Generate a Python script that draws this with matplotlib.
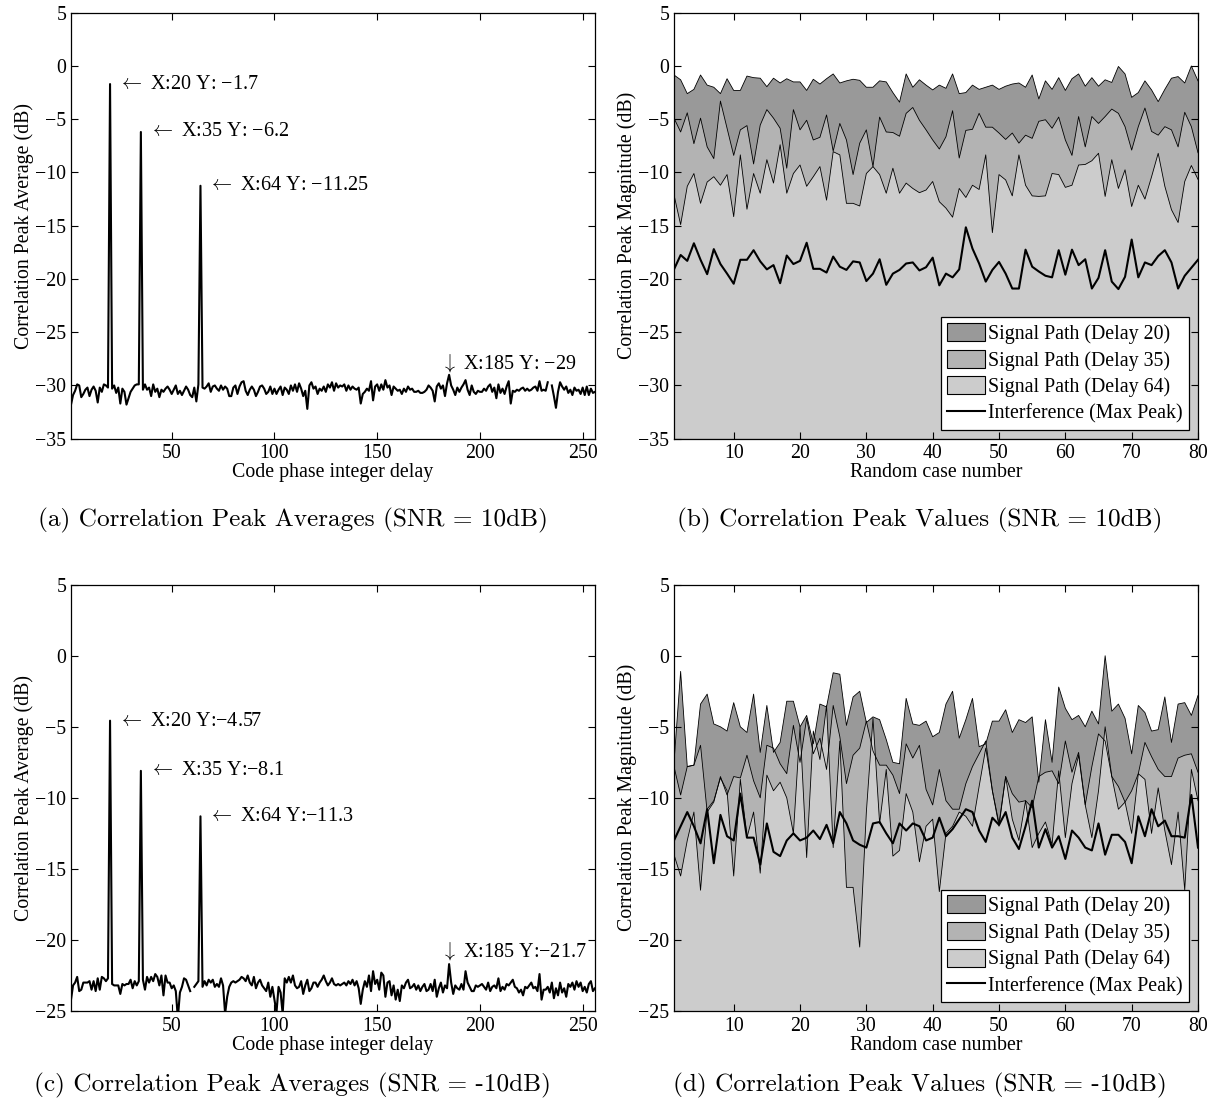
import numpy as np
import matplotlib
matplotlib.use("Agg")
import matplotlib.pyplot as plt
from matplotlib.patches import Patch
from matplotlib.lines import Line2D

nan = np.nan

# (a) correlation peak averages, SNR = 10dB
avg_10 = [
    -31.8, -30.9, -30.5, -29.9, -30.0, -31.1, -30.8, -30.4, -30.2, -31.0, -30.4, -30.1, -30.5, -31.6, -30.2, -30.6,
    -29.9, -30.0, -30.2, -1.7, -30.3, -30.0, -30.7, -30.2, -31.7, -30.3, -30.6, -31.8, -31.2, -30.6, -30.3, -30.0,
    -29.9, -29.9, -6.2, -30.4, -29.9, -30.4, -30.2, -31.0, -29.9, -30.6, -30.3, -31.1, -30.4, -30.6, -30.3, -30.1,
    -30.4, -30.8, -30.4, -30.0, -30.8, -30.5, -30.9, -30.5, -30.1, -30.4, -30.9, -31.1, -30.2, -31.5, -29.9, -11.25,
    -30.2, -30.3, -30.1, -29.8, -30.6, -30.1, -30.0, -30.3, -30.5, -30.0, -30.4, -30.1, -30.3, -31.0, -31.0, -30.2,
    -30.0, -30.8, -30.1, -29.7, -29.6, -30.5, -30.9, -30.4, -30.1, -30.4, -31.0, -30.6, -30.1, -30.0, -30.3, -30.8,
    -30.6, -30.1, -30.8, -30.3, -30.8, -30.4, -30.1, -30.9, -30.2, -30.4, -30.8, -30.0, -30.5, -29.9, -30.6, -29.8,
    -30.3, -31.0, -30.5, -32.2, -30.0, -29.7, -30.3, -30.1, -30.8, -30.3, -30.5, -30.1, -30.6, -29.9, -30.2, -29.7,
    -30.5, -29.8, -30.2, -30.0, -30.1, -29.9, -30.5, -30.0, -30.4, -30.1, -30.3, -30.4, -30.2, -31.7, -30.8, -30.6,
    -30.3, -30.5, -29.6, -31.4, -30.1, -29.9, -30.5, -29.9, -30.4, -29.5, -30.2, -30.0, -30.9, -30.1, -30.3, -30.5,
    -30.4, -30.8, -30.3, -30.6, -30.1, -30.4, -30.3, -30.6, -30.6, -30.5, -30.7, -30.7, -30.6, -30.4, -30.0, -30.2,
    -30.5, -31.5, -30.1, -29.8, -30.3, -30.0, -31.0, -29.8, -29.0, -30.0, -30.4, -30.9, -30.2, -30.6, -30.2, -29.9,
    -29.5, -30.4, -30.9, -30.0, -30.6, -30.8, -30.5, -30.6, -30.6, -30.3, -30.5, -30.1, -29.9, -30.6, -30.2, -31.2,
    -29.9, -30.7, -30.3, -30.8, -30.1, -29.6, -31.7, -30.5, -30.6, -30.4, -30.5, -30.3, -30.2, -30.5, -30.3, -30.5,
    -30.4, -30.2, -30.1, -30.5, -29.6, -30.5, -30.4, -30.5, -29.7, nan, -30.0, -31.0, -32.1, -30.6, -29.7, -30.1,
    -30.4, -30.1, -30.7, -30.4, -30.9, -30.2, -30.5, -30.4, -30.8, -30.2, -30.9, -30.1, -30.9, -30.3, -30.7, -30.6,
]

# (c) correlation peak averages, SNR = -10dB
avg_m10 = [
    -24.2, -23.2, -23.0, -22.6, -23.6, -23.5, -23.0, -23.0, -23.0, -22.9, -23.5, -22.9, -23.6, -22.7, -23.5, -22.6,
    -22.7, -22.9, -22.7, -4.57, -23.1, -23.2, -23.2, -23.2, -23.8, -23.1, -23.2, -23.1, -23.1, -22.8, -23.4, -22.9,
    -23.2, -22.9, -8.1, -22.8, -23.5, -22.6, -23.0, -22.6, -22.9, -22.4, -22.6, -23.2, -22.5, -23.9, -22.5, -23.0,
    -23.0, -23.4, -23.2, -23.6, -25.5, -23.7, -23.3, -22.7, -22.8, -23.2, -23.6, nan, -23.3, -23.1, -22.9, -11.3,
    -23.3, -22.9, -23.2, -22.8, -23.0, -22.8, -23.3, -23.1, -23.3, -22.7, -23.2, -25.2, -24.0, -23.3, -23.0, -22.9,
    -23.0, -22.9, -22.8, -22.6, -22.7, -22.9, -22.5, -23.0, -23.2, -22.6, -23.4, -23.0, -22.8, -23.2, -23.4, -23.6,
    -23.0, -24.0, -23.3, -24.2, -25.1, -23.3, -23.7, -25.2, -22.7, -23.0, -22.6, -23.0, -22.5, -23.2, -23.4, -23.3,
    -22.9, -23.8, -23.2, -22.8, -23.6, -23.4, -23.0, -23.0, -23.3, -23.0, -22.8, -22.5, -22.9, -23.2, -23.0, -22.7,
    -23.1, -23.2, -23.1, -23.2, -23.1, -23.0, -23.2, -22.9, -23.1, -22.8, -23.2, -22.9, -23.4, -24.5, -23.5, -22.9,
    -23.3, -22.5, -23.6, -22.2, -23.1, -22.8, -23.5, -22.3, -22.5, -24.0, -23.0, -22.9, -23.9, -23.2, -24.2, -23.5,
    -24.3, -23.2, -23.4, -23.0, -22.8, -23.4, -23.3, -23.1, -23.5, -23.2, -23.6, -23.3, -23.1, -23.6, -23.5, -23.1,
    -23.6, -22.8, -24.0, -23.4, -23.0, -23.7, -23.2, -23.4, -21.7, -23.0, -23.8, -23.2, -23.4, -23.5, -23.1, -23.5,
    -22.2, -23.0, -23.3, -23.6, -23.6, -23.2, -23.3, -23.2, -23.1, -23.3, -23.5, -23.0, -23.6, -23.3, -23.2, -23.4,
    -22.7, -23.6, -23.3, -23.5, -23.1, -23.2, -23.0, -22.8, -23.3, -23.4, -23.7, -23.5, -23.9, -23.3, -23.4, -23.2,
    -23.0, -23.4, -23.3, -23.6, -22.4, -24.2, -23.5, -23.5, -23.3, -23.7, -23.0, -24.1, -23.4, -23.9, -23.0, -23.7,
    -23.4, -24.0, -23.1, -23.3, -23.0, -23.5, -22.9, -23.3, -23.0, -23.6, -23.3, -23.7, -23.1, -22.9, -23.6, -23.4,
]

# (b) peak values per random case, SNR = 10dB
d20_10 = [-0.85, -1.3, -2.6, -2.2, -0.85, -1.8, -2.0, -2.6, -1.2, -2.3, -2.3, -0.95, -1.1, -1.15, -1.95, -1.15,
          -1.6, -1.2, -1.5, -1.5, -2.3, -1.25, -1.7, -1.2, -0.75, -1.6, -1.4, -1.25, -1.35, -2.0, -2.0, -1.4,
          -1.5, -2.5, -3.4, -0.75, -2.0, -1.3, -1.8, -2.25, -1.8, -2.1, -0.75, -2.6, -2.5, -1.8, -2.2, -2.0,
          -1.8, -2.2, -1.9, -1.7, -1.6, -2.0, -0.85, -3.1, -1.4, -2.2, -1.1, -2.3, -1.2, -0.75, -1.9, -1.1,
          -1.9, -1.3, -1.55, -0.05, -0.75, -2.95, -2.5, -1.4, -2.25, -3.35, -2.2, -1.15, -1.0, -1.6, 0.0, -1.4]
d35_10 = [-4.9, -6.2, -4.4, -7.3, -4.9, -7.6, -8.7, -3.3, -5.85, -8.4, -6.0, -5.6, -9.2, -5.55, -4.1, -4.9,
          -5.85, -9.6, -4.1, -6.0, -5.1, -6.95, -6.7, -4.6, -8.0, -5.4, -6.95, -10.2, -7.25, -6.0, -9.45, -4.8,
          -6.2, -6.25, -6.6, -4.45, -3.9, -5.1, -6.0, -6.95, -7.8, -6.65, -4.2, -8.65, -6.05, -5.95, -4.45, -5.75,
          -5.75, -6.3, -6.9, -6.3, -7.25, -6.5, -6.8, -5.2, -5.05, -5.85, -4.8, -6.95, -8.4, -4.75, -7.6, -4.75,
          -5.4, -4.75, -4.05, -4.45, -5.7, -7.9, -5.7, -3.95, -6.15, -6.5, -5.7, -6.0, -7.6, -4.35, -5.7, -8.15]
d64_10 = [-12.1, -14.9, -11.3, -10.1, -12.9, -10.9, -10.4, -11.2, -10.2, -14.15, -8.35, -13.45, -10.1, -11.95, -8.8, -11.0,
          -7.4, -11.95, -10.1, -9.3, -11.3, -10.4, -9.45, -12.6, -8.05, -8.35, -12.9, -12.9, -13.15, -10.1, -9.45, -10.2,
          -11.95, -9.6, -11.95, -11.0, -11.5, -11.9, -11.65, -10.85, -12.75, -13.35, -14.2, -11.5, -12.35, -11.2, -11.6, -8.35,
          -15.65, -10.2, -10.7, -12.2, -8.35, -11.2, -12.2, -12.25, -12.2, -10.1, -10.2, -11.4, -11.2, -9.3, -9.25, -8.9,
          -8.2, -12.25, -8.8, -11.5, -9.75, -13.2, -11.2, -12.5, -10.4, -8.2, -11.3, -13.5, -14.7, -10.85, -9.35, -10.65]
intf_10 = [-19.1, -17.75, -18.3, -16.65, -18.2, -19.55, -17.2, -18.6, -19.5, -20.45, -18.2, -18.2, -17.3, -18.35, -19.1, -18.7,
           -20.4, -17.8, -18.6, -18.3, -16.6, -19.05, -19.05, -19.4, -17.9, -18.85, -19.15, -18.35, -18.45, -20.2, -19.5, -18.15,
           -20.55, -19.5, -19.15, -18.55, -18.45, -19.2, -18.9, -18.0, -20.6, -19.5, -19.85, -19.1, -15.15, -17.15, -18.55, -20.25,
           -19.15, -18.4, -19.5, -20.9, -20.9, -17.25, -18.85, -19.3, -19.7, -19.85, -17.3, -19.6, -17.25, -18.7, -18.15, -20.9,
           -19.9, -17.3, -20.25, -20.95, -19.8, -16.3, -19.85, -18.45, -18.7, -17.85, -17.3, -18.45, -20.9, -19.7, -18.95, -18.2]

# (d) peak values per random case, SNR = -10dB
d20_m10 = [-7.5, -1.1, -7.8, -7.7, -3.4, -2.7, -4.8, -5.0, -5.3, -3.3, -5.0, -5.4, -2.7, -6.8, -3.5, -6.8,
           -6.1, -3.2, -3.2, -5.0, -4.2, -6.2, -3.4, -3.6, -1.2, -1.3, -4.9, -2.9, -2.5, -4.7, -4.3, -4.5,
           -5.9, -7.5, -7.6, -3.0, -4.8, -4.9, -4.6, -5.7, -5.4, -3.4, -2.5, -5.8, -4.5, -3.0, -6.4, -6.2,
           -4.6, -4.6, -3.8, -5.4, -4.5, -4.7, -4.3, -8.9, -4.5, -7.5, -2.2, -3.7, -4.5, -4.2, -5.0, -3.9,
           -4.8, 0.0, -3.9, -3.4, -4.4, -6.9, -3.5, -4.0, -5.3, -5.2, -2.9, -6.1, -3.4, -3.3, -4.2, -2.8]
d35_m10 = [-7.8, -9.8, -7.8, -7.7, -6.3, -11.0, -10.3, -8.5, -9.8, -8.5, -8.6, -7.0, -8.8, -10.0, -6.3, -6.5,
           -7.6, -8.3, -4.9, -7.5, -4.4, -6.9, -5.8, -8.0, -3.5, -5.7, -9.0, -7.0, -6.5, -4.6, -6.7, -7.7,
           -7.7, -8.4, -9.7, -6.2, -7.2, -6.3, -9.4, -10.5, -8.0, -10.2, -10.8, -10.8, -9.0, -7.8, -6.9, -6.0,
           -9.5, -11.8, -8.5, -9.7, -10.3, -10.2, -10.7, -8.5, -8.2, -8.1, -9.0, -6.0, -8.2, -6.8, -10.5, -7.8,
           -5.5, -6.0, -8.5, -9.2, -10.3, -9.5, -8.3, -6.1, -7.1, -8.0, -8.5, -8.5, -7.2, -7.0, -6.9, -8.2]
d64_m10 = [-14.0, -15.5, -13.0, -11.0, -16.5, -10.8, -10.2, -8.6, -9.5, -15.5, -8.7, -12.8, -11.0, -15.3, -8.4, -9.5,
           -8.9, -10.0, -12.5, -5.0, -14.2, -5.3, -7.3, -3.5, -13.5, -6.0, -16.3, -16.3, -20.5, -11.0, -4.4, -11.8,
           -8.0, -14.1, -13.7, -9.7, -11.0, -14.5, -12.0, -11.5, -16.6, -12.5, -12.0, -11.0, -11.3, -12.0, -9.2, -6.5,
           -9.5, -12.0, -8.5, -11.5, -13.0, -10.2, -13.5, -12.5, -11.7, -13.3, -8.1, -12.8, -9.0, -7.0, -10.5, -12.8,
           -9.5, -5.0, -8.5, -10.8, -10.3, -12.5, -8.3, -8.7, -12.5, -9.3, -12.3, -14.7, -11.0, -16.5, -8.0, -10.2]
intf_m10 = [-13.0, -12.0, -11.0, -12.0, -13.2, -10.8, -14.6, -11.2, -12.7, -13.0, -9.7, -12.8, -12.8, -14.7, -11.8, -13.8,
            -14.1, -13.0, -12.5, -13.0, -12.8, -12.3, -12.9, -11.9, -13.2, -11.0, -11.8, -13.0, -13.3, -13.5, -11.8, -11.7,
            -12.5, -13.2, -11.8, -12.3, -11.8, -12.0, -13.0, -12.8, -11.4, -12.7, -12.2, -11.5, -10.8, -11.0, -12.3, -13.1,
            -11.4, -11.9, -11.0, -12.8, -13.6, -12.0, -10.2, -13.5, -12.2, -13.5, -12.7, -14.3, -12.3, -12.8, -13.5, -13.7,
            -11.8, -14.0, -12.6, -12.6, -13.1, -14.6, -11.3, -12.7, -10.8, -12.0, -11.6, -12.7, -12.7, -12.8, -9.8, -13.5]

delay = np.arange(1, 257)
case = np.arange(1, 81)
fills = ['#999999', '#b3b3b3', '#cccccc']
labels = ['Signal Path (Delay 20)', 'Signal Path (Delay 35)', 'Signal Path (Delay 64)', 'Interference (Max Peak)']

plt.rcParams['font.family'] = ['Liberation Serif', 'DejaVu Serif']
plt.rcParams['mathtext.fontset'] = 'cm'
plt.rcParams['font.size'] = 14.3
plt.rcParams['xtick.direction'] = 'in'
plt.rcParams['ytick.direction'] = 'in'
plt.rcParams['xtick.top'] = True
plt.rcParams['ytick.right'] = True
plt.rcParams['xtick.major.size'] = 5
plt.rcParams['ytick.major.size'] = 5
plt.rcParams['xtick.major.pad'] = 4
plt.rcParams['axes.linewidth'] = 0.9

fig = plt.figure(figsize=(12.21, 11.13), dpi=100)
W, H = 1221.0, 1113.0


def box(l, t, r, b):
    return [l / W, 1 - b / H, (r - l) / W, (b - t) / H]


def avg_panel(ax, y, ylo, notes, note185):
    ax.plot(delay, y, color='k', lw=1.5)
    ax.set_xlim(1, 256)
    ax.set_ylim(ylo, 5)
    ax.set_xticks([50, 100, 150, 200, 250])
    ax.set_yticks(np.arange(ylo, 6, 5))
    ax.set_xlabel('Code phase integer delay', labelpad=0)
    ax.set_ylabel('Correlation Peak Average (dB)', labelpad=1)
    for xx, yy, txt in notes:
        ax.text(xx + 3.9, yy, r'$\leftarrow$ ' + txt, fontsize=14.5, va='center', ha='left')
    ax.text(181, note185[0], r'$\downarrow$' + ' ' + note185[1], fontsize=14.5, va='center', ha='left')


def peak_panel(ax, series, intf, ylo):
    # each area is drawn with its edge, so later areas cover earlier edges
    for s, c in zip(series, fills):
        ax.fill_between(case, s, ylo, facecolor=c, edgecolor='none')
        ax.plot(case, s, color='k', lw=0.6)
    ax.plot(case, intf, color='k', lw=1.5)
    ax.set_xlim(1, 80)
    ax.set_ylim(ylo, 5)
    ax.set_xticks(np.arange(10, 81, 10))
    ax.set_yticks(np.arange(ylo, 6, 5))
    ax.set_xlabel('Random case number', labelpad=0)
    ax.set_ylabel('Correlation Peak Magnitude (dB)', labelpad=1)
    handles = [Patch(facecolor=c, edgecolor='k', lw=0.8) for c in fills]
    handles.append(Line2D([], [], color='k', lw=1.5))
    leg = ax.legend(handles, labels, loc='lower right', fontsize=14.3, fancybox=False,
                    edgecolor='k', framealpha=1, handlelength=1.9, handleheight=1.0,
                    labelspacing=0.3, handletextpad=0.2, borderpad=0.3, borderaxespad=0.45)
    leg.get_frame().set_linewidth(0.9)


ax_a = fig.add_axes(box(71, 12.7, 595, 438.7))
avg_panel(ax_a, avg_10, -35,
          [(20, -1.7, 'X:20 Y: \u22121.7'), (35, -6.2, 'X:35 Y: \u22126.2'), (64, -11.25, 'X:64 Y: \u221211.25')],
          (-27.9, 'X:185 Y: \u221229'))

ax_c = fig.add_axes(box(71, 584.7, 595, 1011))
avg_panel(ax_c, avg_m10, -25,
          [(20, -4.6, 'X:20 Y:\u22124.57'), (35, -8.1, 'X:35 Y:\u22128.1'), (64, -11.3, 'X:64 Y:\u221211.3')],
          (-20.75, 'X:185 Y:\u221221.7'))

ax_b = fig.add_axes(box(674, 12.7, 1198, 438.7))
peak_panel(ax_b, [d20_10, d35_10, d64_10], intf_10, -35)

ax_d = fig.add_axes(box(674, 584.7, 1198, 1011))
peak_panel(ax_d, [d20_m10, d35_m10, d64_m10], intf_m10, -25)

cap = dict(fontsize=18.2, family='cmr10', ha='center', va='center')
fig.text(293 / W, 1 - 520 / H, '(a) Correlation Peak Averages (SNR = 10dB)', **cap)
fig.text(920 / W, 1 - 520 / H, '(b) Correlation Peak Values (SNR = 10dB)', **cap)
fig.text(293 / W, 1 - 1085 / H, '(c) Correlation Peak Averages (SNR = -10dB)', **cap)
fig.text(920 / W, 1 - 1085 / H, '(d) Correlation Peak Values (SNR = -10dB)', **cap)

fig.savefig('out.png', dpi=100)
